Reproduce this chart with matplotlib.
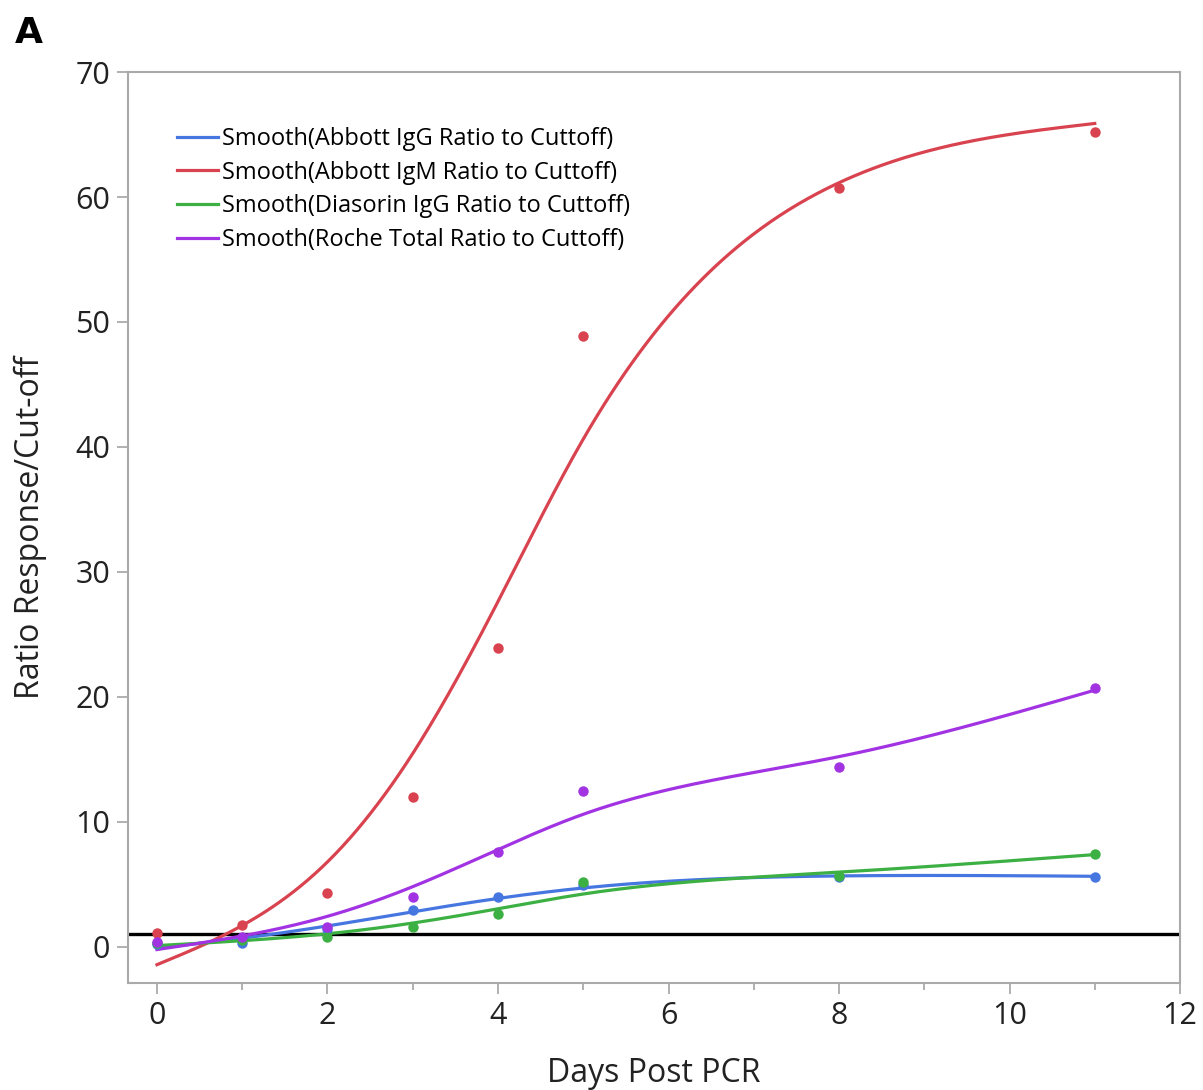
import numpy as np
import matplotlib
matplotlib.use('Agg')
import matplotlib.pyplot as plt
from matplotlib.ticker import MultipleLocator

plt.rcParams['font.family'] = ['Open Sans', 'DejaVu Sans']

# datos
dias = [0, 1, 2, 3, 4, 5, 8, 11]
abbott_igg = [0.2, 0.3, 1.4, 2.9, 4.0, 4.9, 5.6, 5.6]
abbott_igm = [1.1, 1.7, 4.3, 12.0, 23.9, 48.9, 60.7, 65.2]
diasorin_igg = [0.3, 0.5, 0.8, 1.6, 2.6, 5.2, 5.7, 7.4]
roche_total = [0.4, 0.8, 1.6, 4.0, 7.6, 12.5, 14.4, 20.7]

series = [
    ('Smooth(Abbott IgG Ratio to Cuttoff)', abbott_igg, '#4676E0'),
    ('Smooth(Abbott IgM Ratio to Cuttoff)', abbott_igm, '#D8434F'),
    ('Smooth(Diasorin IgG Ratio to Cuttoff)', diasorin_igg, '#3CB043'),
    ('Smooth(Roche Total Ratio to Cuttoff)', roche_total, '#A233E3'),
]
corte = 1.0
lam = 1.3


def spline_suave(x, y, lam, xs):
    # spline cubico de suavizado (Reinsch)
    x = np.asarray(x, float)
    y = np.asarray(y, float)
    n = len(x)
    h = np.diff(x)
    Q = np.zeros((n, n - 2))
    R = np.zeros((n - 2, n - 2))
    for j in range(1, n - 1):
        Q[j - 1, j - 1] = 1 / h[j - 1]
        Q[j, j - 1] = -1 / h[j - 1] - 1 / h[j]
        Q[j + 1, j - 1] = 1 / h[j]
        R[j - 1, j - 1] = (h[j - 1] + h[j]) / 3
        if j < n - 2:
            R[j - 1, j] = R[j, j - 1] = h[j] / 6
    gam = np.linalg.solve(R + lam * Q.T @ Q, Q.T @ y)
    g = y - lam * Q @ gam
    gam = np.concatenate([[0], gam, [0]])
    out = np.empty_like(xs)
    for k, xv in enumerate(xs):
        i = min(np.searchsorted(x, xv, side='right') - 1, n - 2)
        i = max(i, 0)
        a = xv - x[i]
        b = x[i + 1] - xv
        out[k] = (a * g[i + 1] + b * g[i]) / h[i] - a * b / 6 * (
            (1 + a / h[i]) * gam[i + 1] + (1 + b / h[i]) * gam[i])
    return out


fig = plt.figure(figsize=(12.03, 10.90), dpi=100)
ax = fig.add_axes([0.1064, 0.0982, 0.8745, 0.8357])

ax.axhline(corte, color='black', lw=2.4, zorder=1)

xs = np.linspace(min(dias), max(dias), 400)
for nombre, vals, col in series:
    ax.plot(xs, spline_suave(dias, vals, lam, xs), color=col, lw=2.3, label=nombre, zorder=3)
for nombre, vals, col in series:
    ax.plot(dias, vals, 'o', color=col, ms=7.5, mec='none', zorder=4)

ax.set_xlim(-0.34, 12)
ax.set_ylim(-2.9, 70)
ax.xaxis.set_major_locator(MultipleLocator(2))
ax.xaxis.set_minor_locator(MultipleLocator(1))
ax.yaxis.set_major_locator(MultipleLocator(10))

for s in ax.spines.values():
    s.set_color('#AAAAAA')
    s.set_linewidth(1.5)
ax.tick_params(axis='both', which='major', length=8, width=1.3, color='#AAAAAA',
               labelsize=22, labelcolor='#222222', pad=5)
ax.tick_params(axis='x', which='minor', length=5, width=1.3, color='#AAAAAA')

ax.set_xlabel('Days Post PCR', fontsize=23, color='#222222', labelpad=19)
ax.set_ylabel('Ratio Response/Cut-off', fontsize=23, color='#222222', labelpad=20)

ax.legend(loc='upper left', bbox_to_anchor=(0.038, 0.950), frameon=False,
          fontsize=17, handlelength=1.7, handletextpad=0.2, labelspacing=0.41,
          borderaxespad=0)

fig.text(0.012, 0.97, 'A', fontsize=26, fontweight='bold', va='center', ha='left',
         family='DejaVu Sans')

fig.savefig('out.png', dpi=100)
